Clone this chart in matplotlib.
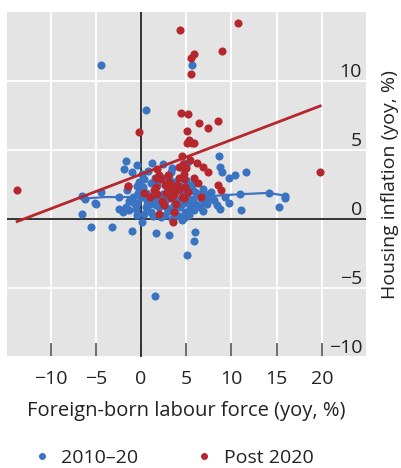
import matplotlib
matplotlib.use("Agg")
import matplotlib.pyplot as plt
from matplotlib.lines import Line2D

plt.rcParams["font.family"] = ["Open Sans", "DejaVu Sans"]

# 2010-20 observations (foreign-born labour force yoy %, housing inflation yoy %)
blue_x = [-4.4, 0.6, 5.6, -1.7, -0.5, 1.2, 2.4, 3.4, 4.7, -1.9, -1.0, 0.1,
          -6.5, -5.1, -4.4, -6.2, -5.0, -6.5, -5.5, -3.2, -1.0, 0.1, 1.6, 3.1,
          5.1, 5.8, 6.0, 1.5, 8.7, 11.1, 15.3, 10.9, 14.1, 15.9, 15.9,
          8.6, 8.7, 8.9, 9.7, 10.4, 11.6, 9.7, 9.3, 5.1, 5.8, 4.4, 4.5,
          -2.4, -2.0, -1.3, 0.5, 1.1, 2.2, 4.0, 2.9, 1.6, -0.4, -2.4, -1.6,
          -0.5, 0.3, 1.1, 0.9, 0.0, -0.8, 2.9, 2.3, 3.3, 4.2, 4.9,
          5.0, 5.3, 5.6, 6.0, 6.3, 6.6, 7.0, 7.3, 7.6, 6.2, 5.5, 5.1, 4.6,
          4.3, 6.8, 7.7, 8.1, 8.4, 5.9, 4.4, 4.9, 5.3, 3.9, 3.6, 3.2, 2.7,
          2.4, 2.0, 1.4, 1.0, 0.6, 0.2, -0.3, -0.9, -1.3, -1.7, -0.6, 0.3,
          1.3, 2.6, 3.4, 1.8, 2.9, 3.8, 3.1, 1.5, 0.8, -0.2,
          6.5, 7.1, 5.7, 4.8, 3.0, 1.9, 0.7, -0.4, 5.4, 6.9]
blue_y = [11.2, 7.9, 11.2, 4.2, 3.95, 4.1, 4.0, 3.7, 4.0, 3.6, 3.4, 3.3,
          1.65, 1.15, 2.0, 1.45, 1.1, 0.35, -0.6, -0.6, -0.85, -0.2, -1.0, -1.15,
          -2.6, -1.6, -0.95, -5.6, 0.7, 0.65, 0.85, 1.8, 1.9, 1.65, 1.5,
          4.6, 3.75, 3.45, 3.0, 3.2, 3.4, 1.2, 1.6, 4.1, 0.65, 0.15, -0.1,
          0.7, 0.5, 0.65, 0.9, 0.5, 0.15, 0.3, 0.8, 1.0, 1.2, 1.6, 2.1,
          2.4, 2.9, 2.6, 1.7, 1.6, 1.15, 2.3, 2.95, 3.4, 0.9, 0.15,
          2.8, 2.5, 2.2, 2.0, 1.8, 1.5, 1.3, 1.1, 1.6, 1.0, 1.2, 1.6, 1.9,
          2.4, 2.2, 2.0, 1.4, 1.0, 2.6, 1.0, 0.5, 0.3, 1.4, 1.0, 0.6, 1.3,
          1.8, 0.9, 1.4, 1.1, 1.9, 2.3, 1.9, 1.6, 1.3, 0.9, 0.7, 0.4,
          0.2, 0.3, 0.0, 2.5, 2.0, 2.7, 3.0, 3.0, 3.5, 2.7,
          0.9, 1.8, 1.4, 1.2, 1.6, 1.2, 1.3, 0.3, 0.8, 0.6]

# one connected country path within 2010-20
path_x = [-6.2, -4.0, -1.5, 2.0, 6.0, 10.8, 14.1, 15.9, 15.9]
path_y = [1.5, 1.6, 1.6, 1.5, 1.6, 1.8, 1.9, 1.7, 1.5]

# Post 2020 observations
red_x = [4.3, 10.7, 5.8, 5.5, 5.5, 8.9, 4.4, 5.2, 6.4, 7.4, 8.5, -0.2, 5.1,
         5.3, 5.9, 5.1, -13.7, 19.8, 8.5, 8.8, 6.2, 6.9, 7.4, 5.6, 4.5, 4.4,
         4.7, 4.7, 4.9, 1.8, 2.0, 4.2, -1.4, 0.3, 1.4, 1.8, 2.3, 3.3, 3.8,
         3.1, 3.4, 4.2, 3.6, 4.5, 1.6, -1.5,
         2.6, 2.8, 3.3, 3.6, 4.0, 4.2, 3.0, 2.2, 1.6, 1.0, 3.9, 2.5, 4.8,
         5.0, 5.4, 4.6, 5.8, 6.3, 2.0, 3.5, 6.6, 5.2]
red_y = [13.7, 14.2, 12.0, 11.7, 10.5, 12.2, 7.7, 7.6, 7.0, 6.6, 7.1, 6.3, 6.4,
         5.75, 5.5, 5.5, 2.1, 3.45, 2.45, 2.1, 4.1, 3.75, 3.4, 5.5, 4.6, 3.75,
         3.3, 1.5, 2.3, 3.6, 3.2, 3.75, 2.4, 1.9, 2.1, 1.8, 1.3, 1.5, 1.95,
         2.7, 2.4, 2.2, 0.5, 1.6, 3.0, 2.4,
         2.5, 1.9, 2.2, 1.8, 2.5, 3.0, 3.2, 2.9, 2.3, 1.6, 1.1, 1.0, 2.9,
         3.7, 4.3, 4.0, 3.0, 2.6, 0.4, -0.2, 1.6, 2.0]

# fitted line for Post 2020
fit_intercept = 3.25
fit_slope = 0.25

blue = "#3a73c2"
red = "#b5262d"
bg = "#e4e4e4"
dark = "#333333"
txt = "#222222"

fig = plt.figure(figsize=(4.02, 4.68), dpi=100)
ax = fig.add_axes([0.018, 0.237, 0.893, 0.737])
ax.set_facecolor(bg)
for s in ax.spines.values():
    s.set_visible(False)

ax.set_xlim(-14.8, 24.9)
ax.set_ylim(-10, 15)
ax.set_xticks([-10, -5, 0, 5, 10, 15, 20])
ax.set_yticks([-10, -5, 0, 5, 10])
ax.grid(True, color="white", linewidth=1.3)
ax.set_axisbelow(True)

ax.axhline(0, color=dark, linewidth=1.4, zorder=1)
ax.axvline(0, color=dark, linewidth=1.4, zorder=1)

ax.plot(path_x, path_y, color=blue, linewidth=1.6, zorder=2)
ax.scatter(blue_x, blue_y, s=34, color=blue, linewidths=0, zorder=3)
ax.scatter(red_x, red_y, s=34, color=red, linewidths=0, zorder=4)

lx = [min(red_x), max(red_x)]
ax.plot(lx, [fit_intercept + fit_slope * v for v in lx], color=red,
        linewidth=2, zorder=5)

ax.tick_params(axis="x", direction="in", length=10, width=1.2, color="#555555",
               labelsize=14, pad=9, labelcolor=txt)
ax.yaxis.tick_right()
ax.tick_params(axis="y", length=0, pad=-3, labelsize=14, labelcolor=txt)
for lbl in ax.get_yticklabels():
    lbl.set_horizontalalignment("right")
    lbl.set_verticalalignment("bottom")

ax.set_xlabel("Foreign-born labour force (yoy, %)", fontsize=14.5, color=txt,
              labelpad=10)
ax.yaxis.set_label_position("right")
ax.set_ylabel("Housing inflation (yoy, %)", fontsize=14, color=txt,
              labelpad=11)

handles = [Line2D([], [], marker="o", linestyle="", color=blue, markersize=4),
           Line2D([], [], marker="o", linestyle="", color=red, markersize=4)]
fig.legend(handles, ["2010\u201320", "Post 2020"], loc="lower center",
           bbox_to_anchor=(0.43, -0.035), ncol=2, frameon=False, fontsize=14,
           handletextpad=0.5, columnspacing=2.9, handlelength=1,
           labelcolor=txt)

fig.savefig("out.png", dpi=100)
